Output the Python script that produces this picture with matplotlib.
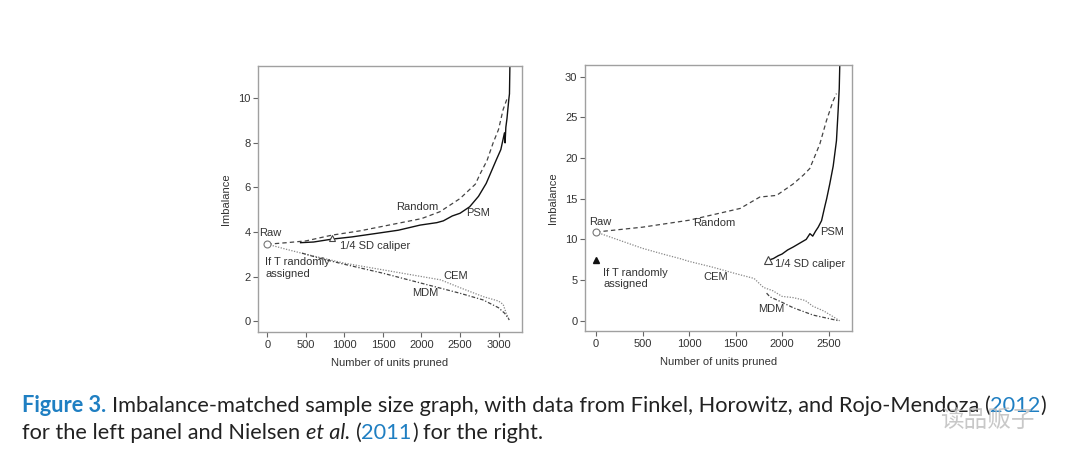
import matplotlib
matplotlib.use("Agg")
import matplotlib.pyplot as plt

# ---- left panel (Finkel et al.) ----
left_random_x = [0, 250, 500, 840, 1200, 1680, 2000, 2240, 2500, 2700, 2760, 2850, 2930, 3000, 3060, 3120]
left_random_y = [3.45, 3.52, 3.6, 3.86, 4.05, 4.38, 4.6, 4.91, 5.5, 6.15, 6.6, 7.2, 8.0, 8.6, 9.5, 10.07]

left_psm_x = [431, 600, 840, 1100, 1422, 1700, 1983, 2200, 2284, 2400, 2500, 2625, 2740, 2840, 2970,
              3030, 3077, 3085, 3095, 3110, 3120, 3135, 3142, 3150]
left_psm_y = [3.52, 3.55, 3.68, 3.78, 3.94, 4.08, 4.31, 4.42, 4.5, 4.72, 4.84, 5.13, 5.6, 6.18, 7.23,
              7.7, 8.45, 8.0, 8.7, 9.1, 9.47, 10.0, 10.2, 12.0]

left_cem_x = [0, 250, 500, 1000, 1500, 2000, 2250, 2500, 2800, 3000, 3060, 3100, 3140]
left_cem_y = [3.45, 3.22, 3.0, 2.6, 2.3, 2.0, 1.85, 1.5, 1.1, 0.9, 0.75, 0.35, 0.05]

left_mdm_x = [450, 700, 1000, 1500, 2000, 2500, 2800, 3000, 3080, 3140]
left_mdm_y = [3.05, 2.8, 2.55, 2.15, 1.7, 1.25, 0.95, 0.6, 0.35, 0.05]

left_raw = (0, 3.45)
left_caliper = (840, 3.72)

# ---- right panel (Nielsen et al.) ----
right_random_x = [0, 250, 500, 1000, 1400, 1550, 1761, 1941, 2119, 2230, 2298, 2406, 2478, 2549, 2585]
right_random_y = [10.9, 11.2, 11.5, 12.35, 13.4, 13.8, 15.2, 15.4, 16.8, 17.9, 18.7, 21.7, 24.6, 27.0, 27.9]

right_psm_x = [1852, 1906, 1960, 2000, 2060, 2121, 2200, 2260, 2300, 2330, 2360, 2389, 2425, 2459,
               2480, 2513, 2550, 2585, 2603, 2615, 2621]
right_psm_y = [7.44, 7.64, 8.0, 8.2, 8.7, 9.07, 9.6, 10.0, 10.7, 10.4, 11.0, 11.5, 12.3, 14.0,
               15.0, 16.8, 19.0, 22.1, 25.8, 28.5, 31.5]

right_cem_x = [0, 250, 500, 750, 900, 1000, 1250, 1500, 1700, 1800, 1900, 2000, 2120, 2250, 2330, 2450, 2550, 2620]
right_cem_y = [10.9, 9.9, 8.9, 8.1, 7.65, 7.3, 6.6, 5.8, 5.2, 4.1, 3.7, 3.0, 2.85, 2.5, 1.8, 1.2, 0.5, 0.0]

right_mdm_x = [1834, 1870, 1977, 2121, 2335, 2514, 2610]
right_mdm_y = [3.4, 2.94, 2.4, 1.6, 0.7, 0.25, 0.0]

right_raw = (0, 10.9)
right_caliper = (1852, 7.44)
right_random_T = (0, 7.44)

left_xticks = [0, 500, 1000, 1500, 2000, 2500, 3000]
left_yticks = [0, 2, 4, 6, 8, 10]
right_xticks = [0, 500, 1000, 1500, 2000, 2500]
right_yticks = [0, 5, 10, 15, 20, 25, 30]

TXT = "#333333"
plt.rcParams['font.family'] = ['Liberation Sans', 'DejaVu Sans']

fig = plt.figure(figsize=(10.8, 4.65), dpi=100)
fs = 8


def style_axes(ax, xticks, yticks, xlim, ylim):
    ax.set_xlim(*xlim)
    ax.set_ylim(*ylim)
    ax.set_xticks(xticks)
    ax.set_yticks(yticks)
    for s in ax.spines.values():
        s.set_color("#a0a0a0")
        s.set_linewidth(1.0)
    ax.tick_params(direction="out", length=3.5, width=0.8, color="#666666",
                   labelsize=fs, labelcolor=TXT, pad=2)
    ax.set_xlabel("Number of units pruned", fontsize=fs, color=TXT, labelpad=6)
    ax.set_ylabel("Imbalance", fontsize=fs, color=TXT, labelpad=5)


def draw_lines(ax, rx, ry, px, py, cx, cy, mx, my):
    ax.plot(rx, ry, color="#444444", lw=0.9, ls=(0, (3.5, 2.5)))
    ax.plot(px, py, color="#111111", lw=1.0)
    ax.plot(cx, cy, color="#888888", lw=0.9, ls=(0, (1, 1.2)))
    ax.plot(mx, my, color="#444444", lw=0.9, ls=(0, (3, 1.5, 1, 1.5)))


# left
ax1 = fig.add_axes([0.239, 0.286, 0.244, 0.572])
draw_lines(ax1, left_random_x, left_random_y, left_psm_x, left_psm_y,
           left_cem_x, left_cem_y, left_mdm_x, left_mdm_y)
ax1.plot(*left_raw, marker="o", ms=5, mfc="white", mec="#777777", mew=0.8)
ax1.plot(*left_caliper, marker="^", ms=5, mfc="white", mec="#444444", mew=0.8)
style_axes(ax1, left_xticks, left_yticks, (-120, 3300), (-0.49, 11.45))
ax1.text(-112, 3.95, "Raw", fontsize=fs, color=TXT, va="center")
ax1.text(944, 3.37, "1/4 SD caliper", fontsize=fs, color=TXT, va="center")
ax1.text(-26, 2.38, "If T randomly\nassigned", fontsize=fs, color=TXT, va="center", linespacing=1.15)
ax1.text(1677, 5.13, "Random", fontsize=fs, color=TXT, va="center")
ax1.text(2582, 4.86, "PSM", fontsize=fs, color=TXT, va="center")
ax1.text(2280, 2.02, "CEM", fontsize=fs, color=TXT, va="center")
ax1.text(1879, 1.24, "MDM", fontsize=fs, color=TXT, va="center")

# right
ax2 = fig.add_axes([0.5417, 0.288, 0.247, 0.572])
draw_lines(ax2, right_random_x, right_random_y, right_psm_x, right_psm_y,
           right_cem_x, right_cem_y, right_mdm_x, right_mdm_y)
ax2.plot(*right_raw, marker="o", ms=5, mfc="white", mec="#777777", mew=0.8)
ax2.plot(*right_caliper, marker="^", ms=5.5, mfc="white", mec="#444444", mew=0.8)
ax2.plot(*right_random_T, marker="^", ms=5, color="#111111")
style_axes(ax2, right_xticks, right_yticks, (-118, 2750), (-1.26, 31.4))
ax2.text(-72, 12.13, "Raw", fontsize=fs, color=TXT, va="center")
ax2.text(1045, 12.0, "Random", fontsize=fs, color=TXT, va="center")
ax2.text(2406, 10.9, "PSM", fontsize=fs, color=TXT, va="center")
ax2.text(1922, 6.95, "1/4 SD caliper", fontsize=fs, color=TXT, va="center")
ax2.text(79, 5.2, "If T randomly\nassigned", fontsize=fs, color=TXT, va="center", linespacing=1.15)
ax2.text(1153, 5.39, "CEM", fontsize=fs, color=TXT, va="center")
ax2.text(1744, 1.45, "MDM", fontsize=fs, color=TXT, va="center")

# caption, written piece by piece
BLUE = "#1f7fc2"
DARK = "#222222"
CAP_FONT = "Lato"
CAP_SIZE = 15.65
W, H = fig.bbox.width, fig.bbox.height
renderer = fig.canvas.get_renderer()


def write_line(x_px, y_px, parts):
    space = fig.text(0, 0, "a a", fontsize=CAP_SIZE, family=CAP_FONT)
    nospace = fig.text(0, 0, "aa", fontsize=CAP_SIZE, family=CAP_FONT)
    sp = space.get_window_extent(renderer).width - nospace.get_window_extent(renderer).width
    space.remove()
    nospace.remove()
    x = x_px
    for s, color, weight, style, gap in parts:
        if gap:
            x += sp
        t = fig.text(x / W, 1 - y_px / H, s, fontsize=CAP_SIZE, family=CAP_FONT,
                     color=color, weight=weight, style=style, va="baseline")
        x += t.get_window_extent(renderer).width


write_line(22, 412, [
    ("Figure 3.", BLUE, "bold", "normal", False),
    ("Imbalance-matched sample size graph, with data from Finkel, Horowitz, and Rojo-Mendoza", DARK, "normal", "normal", True),
    ("(", DARK, "normal", "normal", True),
    ("2012", BLUE, "normal", "normal", False),
    (")", DARK, "normal", "normal", False),
])
write_line(22, 439, [
    ("for the left panel and Nielsen", DARK, "normal", "normal", False),
    ("et al.", DARK, "normal", "italic", True),
    ("(", DARK, "normal", "normal", True),
    ("2011", BLUE, "normal", "normal", False),
    (")", DARK, "normal", "normal", False),
    ("for the right.", DARK, "normal", "normal", True),
])

# watermark
fig.text(940 / W, 1 - 420 / H, "读品贩子", fontsize=17, color="#bbbbbb", alpha=0.8,
         family=["Noto Sans CJK SC", "DejaVu Sans"], va="center")

fig.savefig("out.png", dpi=100)
